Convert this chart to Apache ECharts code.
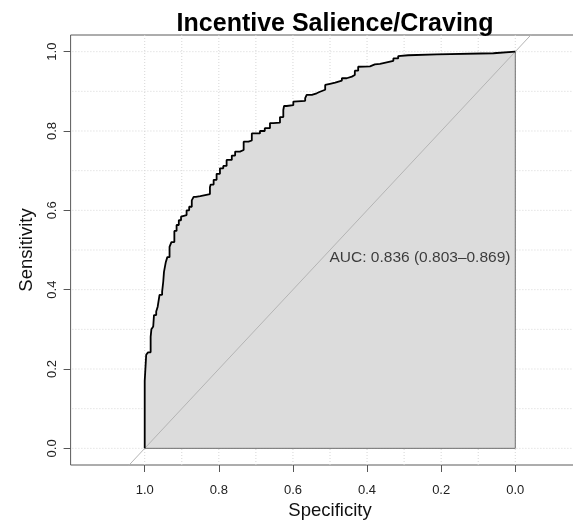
<!DOCTYPE html>
<html>
<head>
<meta charset="utf-8">
<script src="https://cdn.jsdelivr.net/npm/echarts@6/dist/echarts.min.js"></script>
<style>
html,body{margin:0;padding:0;background:#fff;overflow:hidden;}
#chart{width:573px;height:526px;}
</style>
</head>
<body>
<div id="chart"></div>
<script>
const TITLE = 'Incentive Salience/Craving';
const X_NAME = 'Specificity';
const Y_NAME = 'Sensitivity';
const AUC_LABEL = 'AUC: 0.836 (0.803\u20130.869)';
const AUC_POS = [0.5, 0.5];

// ROC curve (specificity, sensitivity)
const SPEC = [1.000,1.000,0.996,0.991,0.984,0.982,0.977,0.975,0.969,0.965,0.960,0.953,0.950,0.948,0.943,0.939,0.933,0.928,0.920,0.914,0.908,0.902,0.897,0.887,0.880,0.873,0.868,0.862,0.850,0.824,0.822,0.814,0.806,0.797,0.788,0.779,0.765,0.756,0.743,0.733,0.720,0.711,0.702,0.689,0.676,0.662,0.653,0.635,0.626,0.624,0.617,0.599,0.594,0.567,0.563,0.549,0.536,0.527,0.513,0.509,0.500,0.486,0.468,0.455,0.441,0.433,0.424,0.421,0.392,0.379,0.365,0.347,0.329,0.316,0.311,0.289,0.284,0.212,0.208,0.059,0.000];
const SENS = [0.000,0.164,0.170,0.236,0.242,0.281,0.300,0.307,0.336,0.345,0.357,0.387,0.395,0.420,0.445,0.470,0.482,0.508,0.520,0.548,0.563,0.575,0.584,0.588,0.600,0.609,0.625,0.634,0.636,0.641,0.658,0.665,0.677,0.692,0.706,0.712,0.727,0.738,0.748,0.752,0.773,0.776,0.794,0.794,0.800,0.807,0.820,0.821,0.835,0.853,0.863,0.865,0.874,0.876,0.883,0.891,0.895,0.899,0.904,0.916,0.919,0.922,0.927,0.933,0.937,0.941,0.952,0.962,0.963,0.968,0.969,0.973,0.977,0.983,0.989,0.991,0.993,0.993,0.996,0.996,1.000];

const TICKS = [0, 0.2, 0.4, 0.6, 0.8, 1.0];
const GRID_VALUES = [0, 0.1, 0.2, 0.3, 0.4, 0.5, 0.6, 0.7, 0.8, 0.9, 1.0];
const DIAG_SPEC = [1.2, -0.2];
const DIAG_SENS = [-0.2, 1.2];
const X_RANGE = [-0.2, 1.2];
const Y_RANGE = [-0.042, 1.042];

const FONT = "'Liberation Sans', Arial, Helvetica, sans-serif";

const roc = SPEC.map((s, i) => [s, SENS[i]]);
const diag = DIAG_SPEC.map((s, i) => [s, DIAG_SENS[i]]);
const first = roc[0], last = roc[roc.length - 1];
const border = [[first[0], first[1]], [last[0], first[1]], [last[0], last[1]]];

const gridStyle = {color: '#d6d6d6', width: 1, type: [1, 2]};
const gridSeries = [];
GRID_VALUES.forEach(v => {
  gridSeries.push({type: 'line', data: [[v, Y_RANGE[0]], [v, Y_RANGE[1]]], z: 0, silent: true,
    showSymbol: false, symbol: 'none', lineStyle: gridStyle});
  gridSeries.push({type: 'line', data: [[X_RANGE[0], v], [X_RANGE[1], v]], z: 0, silent: true,
    showSymbol: false, symbol: 'none', lineStyle: gridStyle});
});

const chart = echarts.init(document.getElementById('chart'), null, {renderer: 'canvas'});
chart.setOption({
  animation: false,
  backgroundColor: '#ffffff',
  title: {
    text: TITLE,
    left: 330,
    top: 7,
    textAlign: 'center',
    textStyle: {fontFamily: FONT, fontSize: 25, fontWeight: 'bold', color: '#000'}
  },
  grid: {
    left: 70.6, top: 35, width: 518.8, height: 430,
    outerBoundsMode: 'none',
    show: true, borderColor: '#5a5a5a', borderWidth: 1, backgroundColor: 'transparent',
    containLabel: false
  },
  xAxis: {
    type: 'value', inverse: true, min: X_RANGE[0], max: X_RANGE[1],
    name: X_NAME, nameLocation: 'middle', nameGap: 36,
    nameTextStyle: {fontFamily: FONT, fontSize: 18.5, color: '#111'},
    axisLine: {show: false, onZero: false},
    splitLine: {show: false},
    axisTick: {show: true, length: 7, lineStyle: {color: '#555'}, customValues: TICKS},
    axisLabel: {show: true, margin: 19, fontFamily: FONT, fontSize: 13, color: '#222',
      customValues: TICKS, formatter: v => Number(v).toFixed(1)}
  },
  yAxis: {
    type: 'value', min: Y_RANGE[0], max: Y_RANGE[1],
    name: Y_NAME, nameLocation: 'middle', nameGap: 34, nameRotate: 90,
    nameTextStyle: {fontFamily: FONT, fontSize: 18.5, color: '#111'},
    axisLine: {show: false, onZero: false},
    splitLine: {show: false},
    axisTick: {show: true, length: 7, lineStyle: {color: '#555'}, customValues: TICKS},
    axisLabel: {show: true, margin: 12, rotate: 90, fontFamily: FONT, fontSize: 13, color: '#222',
      customValues: TICKS, formatter: v => Number(v).toFixed(1)}
  },
  series: gridSeries.concat([
    {
      type: 'line', data: roc, step: 'start', showSymbol: false, symbol: 'none', z: 2, silent: true,
      lineStyle: {width: 0, opacity: 0},
      areaStyle: {color: '#dcdcdc', opacity: 1}
    },
    {
      type: 'line', data: border, showSymbol: false, symbol: 'none', z: 3, silent: true,
      lineStyle: {color: '#6e6e6e', width: 1}
    },
    {
      type: 'line', data: diag, showSymbol: false, symbol: 'none', z: 4, silent: true, clip: true,
      lineStyle: {color: '#b4b4b4', width: 1}
    },
    {
      type: 'line', data: roc, step: 'start', showSymbol: false, symbol: 'none', z: 5, silent: true,
      lineStyle: {color: '#000', width: 1.8}
    },
    {
      type: 'scatter', data: [AUC_POS], symbolSize: 1, z: 6, silent: true,
      itemStyle: {color: 'rgba(0,0,0,0)'},
      label: {
        show: true, position: [0, 0], align: 'left', verticalAlign: 'top',
        formatter: () => AUC_LABEL,
        fontFamily: FONT, fontSize: 15.5, color: '#111'
      }
    }
  ])
});
</script>
</body>
</html>
